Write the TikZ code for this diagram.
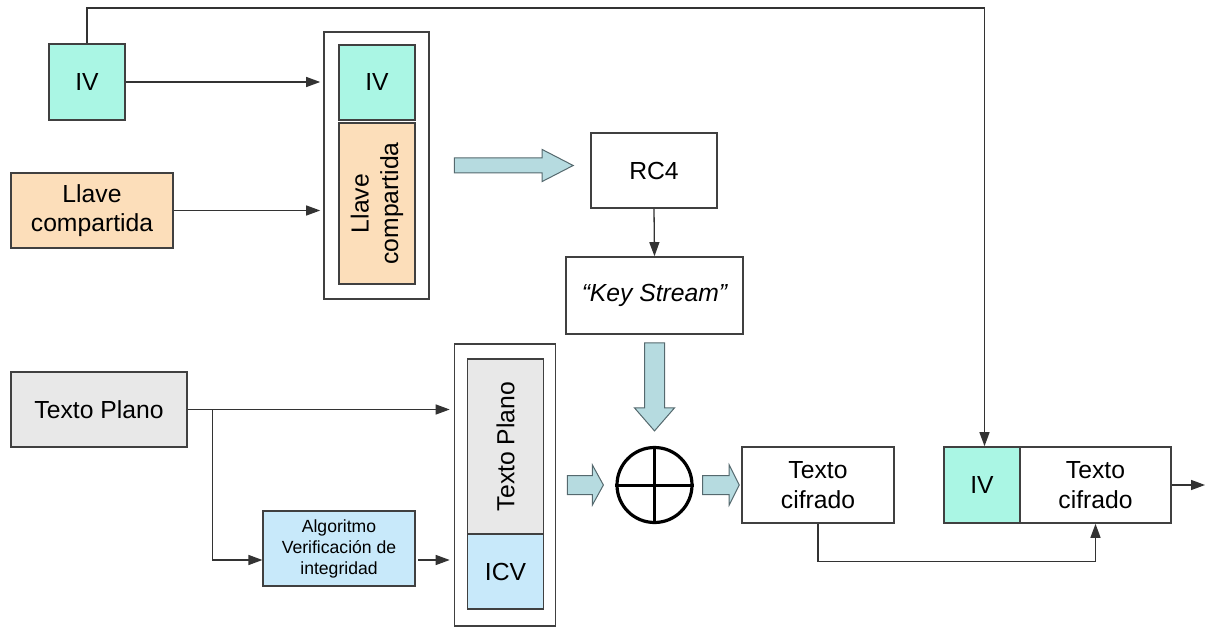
\documentclass[tikz,border=0pt]{standalone}
\usepackage{fontspec}
\setmainfont{Liberation Sans}
\usetikzlibrary{arrows.meta,calc}
\definecolor{ivc}{RGB}{170,246,228}
\definecolor{llc}{RGB}{252,222,186}
\definecolor{tpc}{RGB}{232,232,232}
\definecolor{icc}{RGB}{200,233,250}
\definecolor{fac}{RGB}{182,219,224}
\definecolor{fab}{RGB}{85,105,110}
\definecolor{bdc}{RGB}{64,64,64}
\newcommand{\fatH}[5]{%
 \filldraw[fat] ($(#1)+(0,#3)$) -- ($(#2)+(-#5,#3)$) -- ($(#2)+(-#5,#4)$) -- (#2) -- ($(#2)+(-#5,-#4)$) -- ($(#2)+(-#5,-#3)$) -- ($(#1)+(0,-#3)$) -- cycle;}
\newcommand{\fatV}[5]{%
 \filldraw[fat] ($(#1)+(#3,0)$) -- ($(#2)+(#3,-#5)$) -- ($(#2)+(#4,-#5)$) -- (#2) -- ($(#2)+(-#4,-#5)$) -- ($(#2)+(-#3,-#5)$) -- ($(#1)+(-#3,0)$) -- cycle;}
\begin{document}
\begin{tikzpicture}[x=1pt,y=-1pt,
 box/.style={draw=bdc, line width=1.6pt, inner sep=0pt, align=center, font=\fontsize{24.7}{29.5}\selectfont},
 lbl/.style={inner sep=0pt, align=center, font=\fontsize{24.7}{29.5}\selectfont},
 arr/.style={draw=black!80, line width=1.3pt, -{Triangle[length=14pt,width=10pt]}},
 fat/.style={fill=fac, draw=fab, line width=1pt, line join=miter}]
\useasboundingbox (0,0) rectangle (1210,628);

% left inputs
\node[box, fill=ivc, minimum width=76pt, minimum height=76pt] (iv1) at (87,82) {IV};
\node[box, fill=llc, minimum width=162pt, minimum height=75pt] (llave) at (92,210.5) {Llave\\compartida};

% container 1
\node[box, fill=white, minimum width=105pt, minimum height=267pt] (cont1) at (376.5,165.5) {};
\node[box, fill=ivc, minimum width=76pt, minimum height=75pt] (ivin) at (377,82.5) {IV};
\node[box, fill=llc, minimum width=76pt, minimum height=161pt] (llavein) at (377,203.5) {};
\node[lbl, rotate=90] (llavetxt) at (llavein) {Llave\\compartida};

\draw[arr, shorten >=3pt] (iv1.east) -- (iv1.east -| cont1.west);
\draw[arr, shorten >=3pt] (llave.east) -- (llave.east -| cont1.west);

% RC4 and key stream
\node[box, fill=white, minimum width=126pt, minimum height=75pt] (rc4) at (654,170.5) {RC4};
\node[box, fill=white, minimum width=177pt, minimum height=77pt] (ks) at (654.5,295.5) {\itshape “Key Stream”};
\draw[arr] (rc4.south) -- (ks.north);

\coordinate (f1s) at ($(cont1.east)+(24.5,0)$);
\coordinate (f1e) at ($(f1s -| rc4.west)+(-17,0)$);
\fatH{f1s}{f1e}{7.5}{16}{31}

% plain text
\node[box, fill=tpc, minimum width=176.5pt, minimum height=75pt] (tp) at (99,409.5) {Texto Plano};
\node[box, fill=icc, minimum width=151.5pt, minimum height=75pt, font=\fontsize{17.6}{21}\selectfont] (alg) at (339,548.5) {Algoritmo\\Verificación de\\integridad};

% container 2
\node[box, fill=white, minimum width=101pt, minimum height=282pt] (cont2) at (505,485) {};
\node[box, fill=tpc, minimum width=76pt, minimum height=175pt] (tpin) at (505.5,446.5) {};
\node[lbl, rotate=90] (tptxt) at (tpin) {Texto Plano};
\node[box, fill=icc, minimum width=76pt, minimum height=75pt] (icv) at (505.5,571.5) {ICV};

\draw[arr, shorten >=4pt] (tp.east) -- (tp.east -| cont2.west);
\coordinate (br) at ($(tp.east)+(24.5,0)$);
\coordinate (algin) at ($(alg.west)+(0,11.5)$);
\draw[arr] (br) |- (algin);
\coordinate (algout) at ($(alg.east)+(2.5,11.5)$);
\draw[arr, shorten >=4pt] (algout) -- (algout -| cont2.west);

% XOR
\node[circle, draw=black, line width=3.2pt, minimum size=75pt, inner sep=0pt] (xor) at (654.5,485) {};
\draw[line width=3pt] (xor.north) -- (xor.south);
\draw[line width=3pt] (xor.west) -- (xor.east);

\coordinate (f2s) at ($(ks.south)+(0,8)$);
\coordinate (f2e) at ($(xor.north)+(0,-15)$);
\fatV{f2s}{f2e}{10}{20}{23}

% cipher text
\node[box, fill=white, minimum width=152pt, minimum height=76pt] (tc1) at (818,485) {Texto\\cifrado};
\node[box, fill=ivc, minimum width=75.5pt, minimum height=76pt] (iv2) at (982,485) {IV};
\node[box, fill=white, minimum width=151.5pt, minimum height=76pt] (tc2) at (1095.5,485) {Texto\\cifrado};

\coordinate (f3s) at ($(cont2.east)+(11,0)$);
\coordinate (f3e) at ($(xor.west)+(-12,0)$);
\fatH{f3s}{f3e}{9.5}{20}{11}
\coordinate (f4s) at ($(xor.east)+(9,0)$);
\coordinate (f4e) at ($(tc1.west)+(-2,0)$);
\fatH{f4s}{f4e}{9.5}{20}{10}

\coordinate (outend) at ($(tc2.east)+(33,0)$);
\draw[arr] (tc2.east) -- (outend);
\draw[arr] (tc1.south) -- ++(0,38) -| (tc2.south);

\coordinate (topc) at (500,8);
\coordinate (iv2in) at ($(iv2.north)+(2.5,0)$);
\draw[arr] (iv1.north) |- (topc) -| (iv2in);
\end{tikzpicture}
\end{document}
